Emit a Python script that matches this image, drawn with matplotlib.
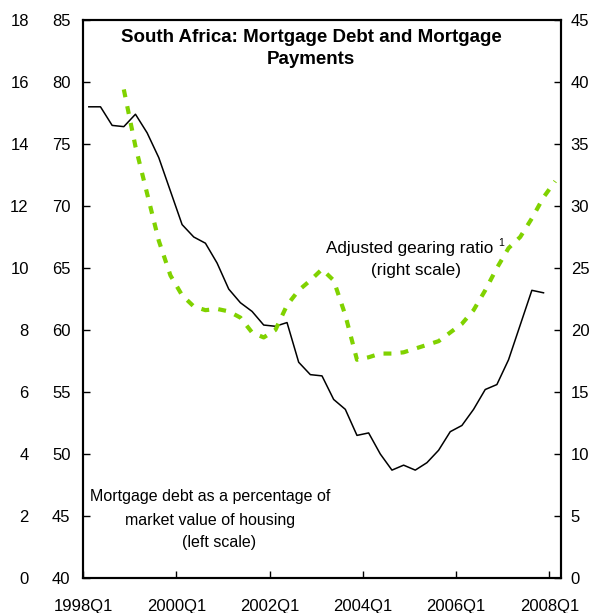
import matplotlib
matplotlib.use("Agg")
import matplotlib.pyplot as plt
import numpy as np

plt.rcParams['font.family'] = ['Liberation Sans', 'DejaVu Sans']

# Quarterly categories 1998Q1 .. 2008Q1 (41 quarters)
n_quarters = 41
tick_positions = [0, 8, 16, 24, 32, 40]
tick_labels = ["1998Q1", "2000Q1", "2002Q1", "2004Q1", "2006Q1", "2008Q1"]

# Mortgage debt as % of market value of housing (left scale), 1998Q1..2007Q4
mortgage_debt = [78.0, 78.0, 76.5, 76.4, 77.4, 75.9, 73.9, 71.2, 68.5, 67.5,
                 67.0, 65.4, 63.3, 62.2, 61.5, 60.4, 60.3, 60.6, 57.4, 56.4,
                 56.3, 54.4, 53.6, 51.5, 51.7, 50.0, 48.7, 49.1, 48.7, 49.3,
                 50.3, 51.8, 52.3, 53.6, 55.2, 55.6, 57.6, 60.4, 63.2, 63.0]

# Adjusted gearing ratio (right scale), 1998Q4..2008Q1
gearing_ratio = [39.4, 34.8, 31.0, 27.2, 24.4, 22.8, 21.9, 21.6, 21.7, 21.5,
                 21.0, 19.8, 19.4, 20.0, 22.0, 23.2, 24.0, 24.9, 24.0, 21.2,
                 17.6, 17.8, 18.1, 18.1, 18.2, 18.5, 18.8, 19.1, 19.8, 20.5,
                 21.6, 23.2, 25.0, 26.6, 27.5, 29.0, 30.7, 32.0]
gearing_start = 3

left_ticks = [40, 45, 50, 55, 60, 65, 70, 75, 80, 85]
right_ticks = [0, 5, 10, 15, 20, 25, 30, 35, 40, 45]
outer_ticks = [0, 2, 4, 6, 8, 10, 12, 14, 16, 18]

W, H = 595, 613
fig = plt.figure(figsize=(W / 100, H / 100), dpi=100)
ax = fig.add_axes([83 / W, (H - 578) / H, 478 / W, 558 / H])
ax2 = ax.twinx()
ax3 = ax.twinx()

x_debt = np.arange(len(mortgage_debt)) + 0.5
x_gear = np.arange(gearing_start, gearing_start + len(gearing_ratio)) + 0.5

ax.plot(x_debt, mortgage_debt, color='black', lw=1.1, zorder=3)
ax2.plot(x_gear, gearing_ratio, color='#80d200', lw=3.0,
         dashes=(1.9, 2.2), zorder=3)

ax.set_xlim(0, n_quarters)
ax.set_ylim(40, 85)
ax2.set_ylim(0, 45)
ax3.set_ylim(0, 18)

ax.set_xticks(tick_positions)
ax.set_xticklabels(tick_labels)
ax.set_yticks(left_ticks)
ax2.set_yticks(right_ticks)
ax3.set_yticks(outer_ticks)

fs = 12
ax.tick_params(axis='x', direction='in', length=5, width=1.0, pad=15,
               labelsize=fs)
ax.tick_params(axis='y', direction='in', length=5, width=1.0, pad=9,
               labelsize=fs)
ax2.tick_params(axis='y', direction='in', length=5, width=1.0, pad=7,
                labelsize=fs)
ax3.yaxis.set_ticks_position('left')
ax3.yaxis.set_label_position('left')
ax3.tick_params(axis='y', length=0, pad=39, labelsize=fs)

for a in (ax, ax2):
    for s in a.spines.values():
        s.set_linewidth(1.5)
for s in ax3.spines.values():
    s.set_visible(False)

tfs = 13.5
fig.text(311 / W, 1 - 38 / H, "South Africa: Mortgage Debt and Mortgage",
         ha='center', va='center', fontsize=tfs, fontweight='bold')
fig.text(311 / W, 1 - 59 / H, "Payments",
         ha='center', va='center', fontsize=tfs, fontweight='bold')

afs = 12.3
fig.text(410 / W, 1 - 248 / H, "Adjusted gearing ratio",
         ha='center', va='center', fontsize=afs)
fig.text(501 / W, 1 - 243 / H, "1", ha='center', va='center', fontsize=7.5)
fig.text(416 / W, 1 - 271 / H, "(right scale)",
         ha='center', va='center', fontsize=afs)

mfs = 11.5
fig.text(210 / W, 1 - 497 / H, "Mortgage debt as a percentage of",
         ha='center', va='center', fontsize=mfs)
fig.text(210 / W, 1 - 520 / H, "market value of housing",
         ha='center', va='center', fontsize=mfs)
fig.text(219 / W, 1 - 542 / H, "(left scale)",
         ha='center', va='center', fontsize=mfs)

fig.savefig("out.png", dpi=100)
